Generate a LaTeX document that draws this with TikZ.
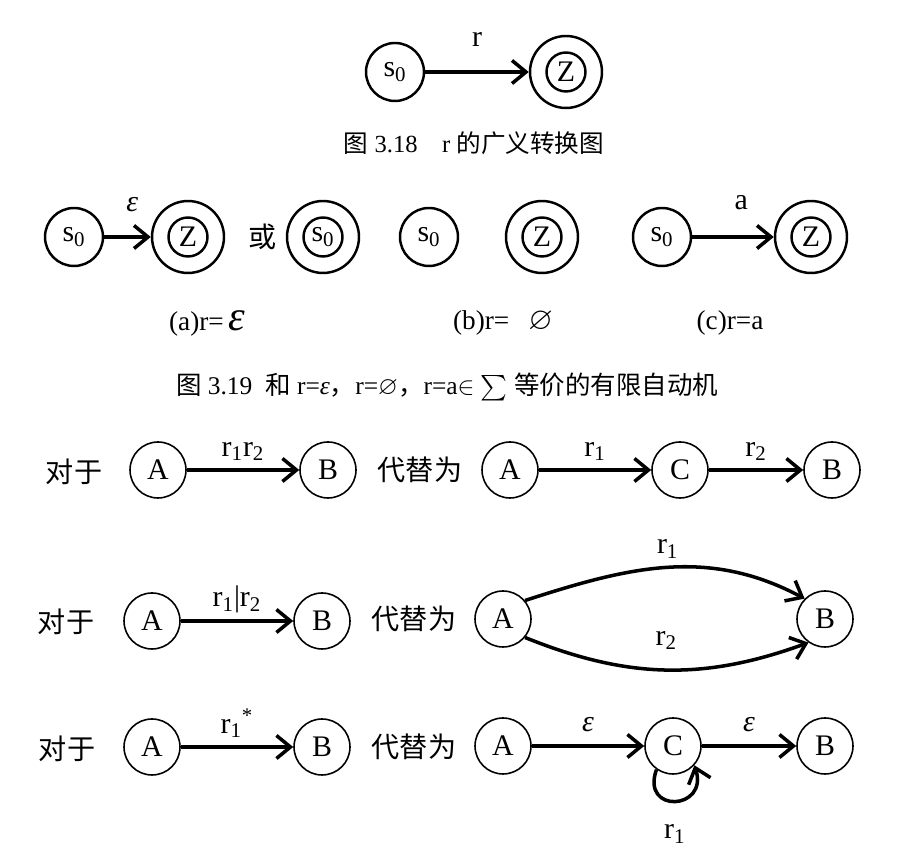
\documentclass[tikz,border=0pt]{standalone}
\usepackage{amssymb}
\usepackage{fontspec}
\setmainfont{Liberation Serif}
\newfontfamily\cjk{Noto Sans CJK SC}
\usetikzlibrary{arrows.meta}

\newcommand{\eps}{\textit{ε}}

\begin{document}
\begin{tikzpicture}[
    x=0.02cm, y=0.02cm,
    st/.style={circle, draw, line width=1.4pt, minimum size=1.16cm, inner sep=0pt, font=\fontsize{17}{20}\selectfont},
    fin/.style={circle, draw, line width=1.4pt, minimum size=1.44cm, inner sep=0pt},
    finin/.style={circle, draw, line width=1.4pt, minimum size=0.78cm, inner sep=0pt, font=\fontsize{17}{20}\selectfont},
    nd/.style={circle, draw, line width=0.9pt, minimum size=1.12cm, inner sep=0pt, font=\fontsize{17}{20}\selectfont},
    txt/.style={font=\cjk\fontsize{16}{19}\selectfont},
    lbl/.style={font=\fontsize{17}{20}\selectfont},
    subcap/.style={font=\fontsize{15.5}{18}\selectfont},
    arr/.style={-{Straight Barb[length=2.8mm, width=4.6mm]}, line width=2pt}
]
\useasboundingbox (0,0) rectangle (913,858);

% Fig 3.18
\node[st] (s0) at (395,786) {s\textsubscript{0}};
\node[fin] (z0) at (566,786) {};
\node[finin] (z0i) at (z0) {Z};
\draw[arr] (s0) -- (z0) node[midway, above=10pt, lbl] {r};
\node[font=\fontsize{14}{16}\selectfont] (cap18) at (474,715) {{\cjk 图} 3.18\quad r {\cjk 的广义转换图}};

% Fig 3.19
\node[st] (s0a) at (74,621) {s\textsubscript{0}};
\node[fin] (za) at (188,621) {};
\node[finin] (zai) at (za) {Z};
\draw[arr] (s0a) -- (za) node[pos=0.6, above=10pt, lbl] {\eps};
\node[txt] (or) at (263,621) {或};
\node[fin] (s0b) at (323,621) {};
\node[finin] (s0bi) at (s0b) {s\textsubscript{0}};

\node[st] (s0c) at (429,621) {s\textsubscript{0}};
\node[fin] (zb) at (542,621) {};
\node[finin] (zbi) at (zb) {Z};

\node[st] (s0d) at (662,621) {s\textsubscript{0}};
\node[fin] (zc) at (811,621) {};
\node[finin] (zci) at (zc) {Z};
\draw[arr] (s0d) -- (zc) node[pos=0.6, above=11pt, lbl] {a};

\node[subcap] (suba) at (207,535) {(a)r=\,{\fontsize{24}{26}\selectfont\eps}};
\node[subcap] (subb) at (503,535) {(b)r=\hspace{0.7em}{\fontsize{18}{20}\selectfont$\varnothing$}};
\node[subcap] (subc) at (730,535) {(c)r=a};
\node[font=\fontsize{14.5}{17}\selectfont] (cap19) at (447,471)
    {{\cjk 图} 3.19\ \ {\cjk 和} r=\eps{\cjk ，}r=$\varnothing${\cjk ，}r=a$\in$ $\sum$ {\cjk 等价的有限自动机}};

% concatenation
\node[txt] (t1) at (74,386) {对于};
\node[nd] (a1) at (158,388) {A};
\node[nd] (b1) at (328,388) {B};
\draw[arr] (a1) -- (b1) node[midway, above=1pt, lbl] {r\textsubscript{1}r\textsubscript{2}};
\node[txt] (t2) at (420,388) {代替为};
\node[nd] (a2) at (510,388) {A};
\node[nd] (c2) at (680,388) {C};
\node[nd] (b2) at (832,388) {B};
\draw[arr] (a2) -- (c2) node[midway, above=1pt, lbl] {r\textsubscript{1}};
\draw[arr] (c2) -- (b2) node[midway, above=1pt, lbl] {r\textsubscript{2}};

% union
\node[txt] (t3) at (66,236) {对于};
\node[nd] (a3) at (152,237) {A};
\node[nd] (b3) at (322,237) {B};
\draw[arr] (a3) -- (b3) node[midway, above=0pt, lbl] {r\textsubscript{1}|r\textsubscript{2}};
\node[txt] (t4) at (414,239) {代替为};
\node[nd] (a4) at (503,239) {A};
\node[nd] (b4) at (825,239) {B};
\draw[arr] (a4.40) to[out=18, in=152] node[midway, above=1pt, lbl] {r\textsubscript{1}} (b4.135);
\draw[arr] (a4.-40) to[out=-22, in=-160] node[midway, above=7pt, lbl] {r\textsubscript{2}} (b4.-125);

% closure
\node[txt] (t5) at (67,109) {对于};
\node[nd] (a5) at (152,111) {A};
\node[nd] (b5) at (322,111) {B};
\draw[arr] (a5) -- (b5) node[midway, above=1pt, lbl] {r\textsubscript{1}\textsuperscript{*}};
\node[txt] (t6) at (414,111) {代替为};
\node[nd] (a6) at (503,112) {A};
\node[nd] (c6) at (673,112) {C};
\node[nd] (b6) at (825,112) {B};
\draw[arr] (a6) -- (c6) node[midway, above=4pt, lbl] {\eps};
\draw[arr] (c6) -- (b6) node[midway, above=4pt, lbl] {\eps};
\draw[arr] (c6.235) .. controls +(250:0.95cm) and +(-72:0.95cm) .. (c6.-42)
    node[pos=0.5, below=9pt, lbl] {r\textsubscript{1}};

\end{tikzpicture}
\end{document}
